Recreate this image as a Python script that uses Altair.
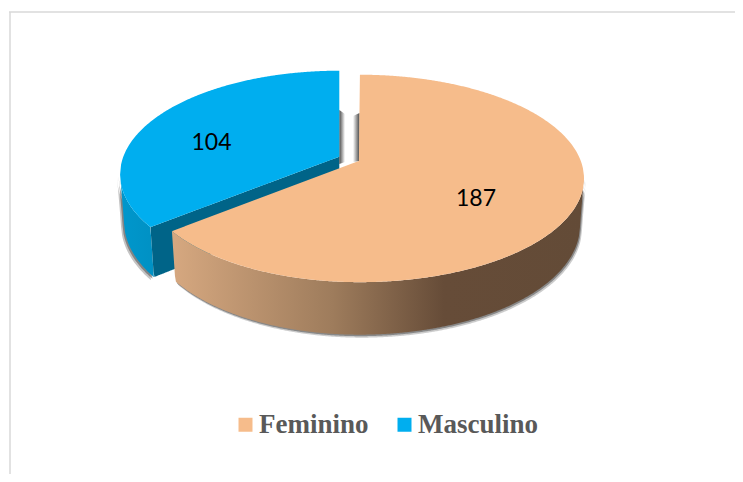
import numpy as np
import pandas as pd
import altair as alt

categories = ["Feminino", "Masculino"]
values = [187, 104]
top_colors = ["#F6BC8B", "#00AEEF"]

W, H = 727, 466
X = alt.Scale(domain=[8, 8 + W], range=[0, W], nice=False, zero=False)
Y = alt.Scale(domain=[8 + H, 8], range=[H, 0], nice=False, zero=False)

K = 0.171
B = 100.7
end_angle = 360.0 * values[0] / sum(values)


def ring(theta, apex, A, r=1.0, left_factor=1.0):
    t = np.radians(theta)
    u, v = r * np.sin(t), -r * np.cos(t)
    d = 1 - K * v
    return apex[0] + A * u * np.where(u < 0, left_factor, 1.0) / d, apex[1] + B * v / d, v


def lower(theta, apex, A, left_factor=1.0):
    x, y, v = ring(theta, apex, A, left_factor=left_factor)
    return apex[0] + (x - apex[0]) * 0.982, y + 46 + 6.5 * v


def band(upper, under):
    """Area between two polylines, both read as functions of x."""
    ux, uy = map(np.asarray, upper)
    lx, ly = map(np.asarray, under)
    a, b = np.argsort(ux), np.argsort(lx)
    ux, uy, lx, ly = ux[a], uy[a], lx[b], ly[b]
    lo, hi = max(ux[0], lx[0]), min(ux[-1], lx[-1])
    xs = np.unique(np.concatenate([np.arange(lo, hi, 1.0), [hi]]))
    return pd.DataFrame({"x": xs, "y": np.interp(xs, ux, uy), "y2": np.interp(xs, lx, ly)})


def area(df, **mark):
    return alt.Chart(df).mark_area(orient="vertical", **mark).encode(
        x=alt.X("x:Q", scale=X, axis=None),
        y=alt.Y("y:Q", scale=Y, axis=None),
        y2="y2:Q",
    )


def shifted(df, dx, dy):
    out = df.copy()
    out["x"] += dx
    out["y"] += dy
    out["y2"] += dy
    return out


# ---------- Feminino ----------
fa, fA, fL = (359.5, 160.7), 221.2, 0.97
th = np.linspace(0, end_angle, 500)
fx, fy, _ = ring(th, fa, fA, left_factor=fL)
right = int(np.argmax(fx))
fcx, fcy = fx[-1], fy[-1]
f_up = (np.r_[fcx, fa[0], fx[: right + 1]], np.r_[fcy, fa[1], fy[: right + 1]])
f_lo = (fx[right:], fy[right:])
f_top = band(f_up, f_lo)
f_top["name"] = categories[0]

wth = th[right:]
wx, wy = lower(wth, fa, fA, left_factor=fL)
f_wall = band(
    (fx[right:], fy[right:]),
    (np.r_[fx[right], wx, fcx], np.r_[fy[right], wy, fcy]),
)

# ---------- Masculino ----------
ma, mA = (339.3, 156.7), 216.0
th2 = np.linspace(end_angle, 360, 400)
mx, my, _ = ring(th2, ma, mA)
left = int(np.argmin(mx))
mcx, mcy = mx[0], my[0]
m_up = (mx[left:], my[left:])
m_lo = (np.r_[mx[left::-1], ma[0]], np.r_[my[left::-1], ma[1]])
m_top = band(m_up, m_lo)
m_top["name"] = categories[1]

wx2, wy2 = lower(th2[: left + 1], ma, mA)
bx, by = wx2[0], wy2[0]
m_wall = band(
    (np.r_[mx[: left + 1], bx], np.r_[my[: left + 1], by]),
    (np.r_[mx[left], wx2[::-1]], np.r_[my[left], wy2[::-1]]),
)
m_cut = band(
    (np.r_[mcx, ma[0]], np.r_[mcy, ma[1]]),
    (np.r_[mcx, bx, ma[0]], np.r_[mcy, by, ma[1] + 47]),
)

# ---------- gap shadows ----------
gap_left = pd.DataFrame({"x": [339.3, 345.0], "y": [110.0, 114.0], "y2": [164.0, 162.0]})
gap_right = pd.DataFrame({"x": [353.0, 359.5], "y": [116.0, 113.0], "y2": [162.0, 161.0]})


def hgrad(stops):
    return alt.Gradient(
        gradient="linear", x1=0, x2=1, y1=0, y2=0,
        stops=[alt.GradientStop(color=c, offset=o) for c, o in stops],
    )


wall_grad = hgrad([("#D6A880", 0), ("#9E7C5C", 0.39), ("#664C38", 0.66), ("#634B37", 1)])
mwall_grad = hgrad([("#0097CC", 0), ("#0091C4", 1)])

color = alt.Color(
    "name:N",
    scale=alt.Scale(domain=categories, range=top_colors),
    legend=alt.Legend(
        title=None, orient="none", legendX=224, legendY=403, direction="horizontal",
        columns=2, symbolType="square", symbolSize=196, symbolStrokeWidth=0,
        labelFont="Liberation Serif", labelFontWeight="bold", labelFontSize=27,
        labelColor="#595959", columnPadding=22, labelOffset=0, padding=0,
        labelLimit=300,
    ),
)

# ---------- labels ----------
label_r = [0.56, 0.69]
label_dy = [13, 15]
mids = [end_angle / 2, end_angle + (360 - end_angle) / 2]
lx0, ly0, _ = ring(mids[0], fa, fA, label_r[0])
lx1, ly1, _ = ring(mids[1], ma, mA, label_r[1])
labels = pd.DataFrame({"x": [lx0, lx1], "y": [ly0 + label_dy[0], ly1 + label_dy[1]], "v": values})

text = alt.Chart(labels).mark_text(font="Lato", fontSize=23, color="#000000").encode(
    x=alt.X("x:Q", scale=X, axis=None),
    y=alt.Y("y:Q", scale=Y, axis=None),
    text="v:Q",
)

# ---------- frame ----------
frame_h = alt.Chart(pd.DataFrame({"x": [9.0], "x2": [735.0], "y": [12.0]})).mark_rule(
    color="#D9D9D9", strokeWidth=1.5
).encode(x=alt.X("x:Q", scale=X, axis=None), x2="x2:Q", y=alt.Y("y:Q", scale=Y, axis=None))
frame_v = alt.Chart(pd.DataFrame({"x": [10.0], "y": [12.0], "y2": [474.0]})).mark_rule(
    color="#D9D9D9", strokeWidth=1.5
).encode(x=alt.X("x:Q", scale=X, axis=None), y=alt.Y("y:Q", scale=Y, axis=None), y2="y2:Q")

layers = [
    frame_h,
    frame_v,
    area(shifted(m_wall, -3, 3), color="#555555", opacity=0.35),
    area(shifted(m_wall, -1.5, 1.5), color="#444444", opacity=0.5),
    area(m_wall, color=mwall_grad),
    area(m_cut, color="#006488"),
    area(gap_left, color=hgrad([("#4A4A4A", 0), ("#FFFFFF", 1)])),
    area(gap_right, color=hgrad([("#FFFFFF", 0), ("#4A4A4A", 1)])),
    area(m_top).encode(color=color),
    area(shifted(f_wall, 2, 3), color="#555555", opacity=0.3),
    area(shifted(f_wall, 1, 1.5), color="#444444", opacity=0.5),
    area(f_wall, color=wall_grad),
    area(f_top).encode(color=color),
    text,
]

chart = alt.layer(*layers).properties(
    width=W, height=H, padding=0, background="#FFFFFF",
    autosize=alt.AutoSizeParams(type="none"),
).configure_view(stroke=None)

chart.save("out.html", embed_options={"renderer": "svg", "actions": False})
